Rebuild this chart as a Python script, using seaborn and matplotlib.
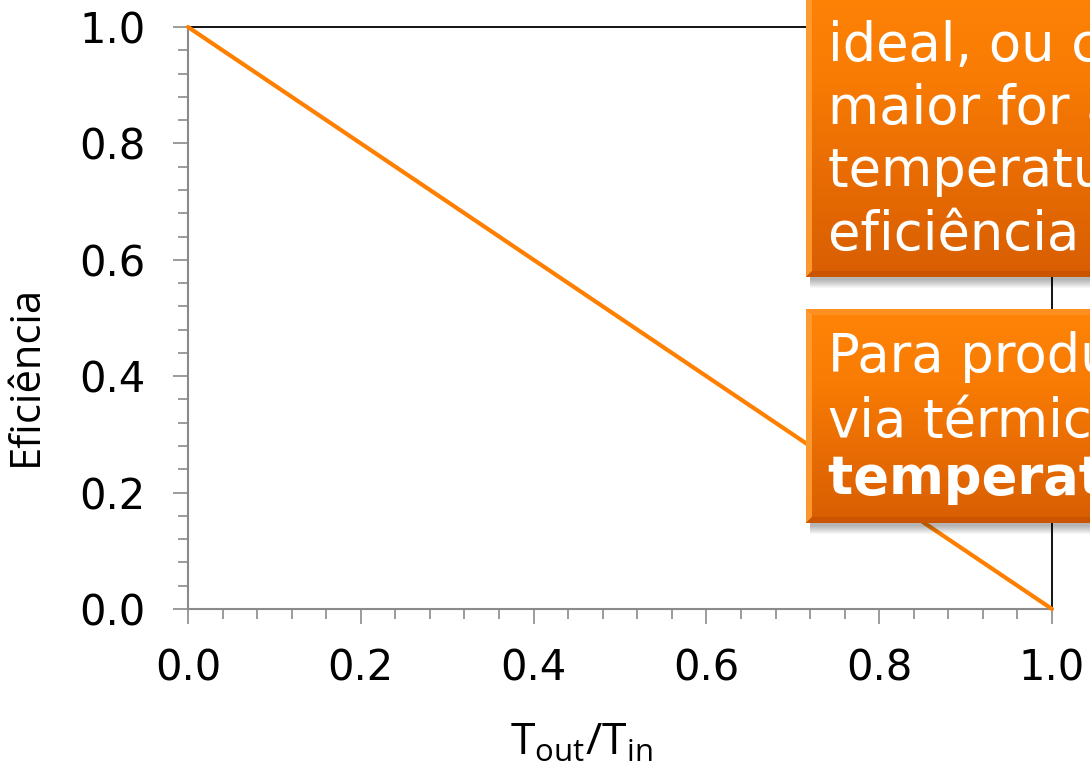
import numpy as np
import pandas as pd
import matplotlib
matplotlib.use("Agg")
import matplotlib.pyplot as plt
import seaborn as sns
from matplotlib.ticker import MultipleLocator, FixedLocator
from matplotlib.patches import Rectangle, Polygon
from matplotlib.colors import LinearSegmentedColormap

# ---------------- data ----------------
ratio = [0.0, 1.0]            # T_out / T_in
efficiency = [1.0, 0.0]       # Eficiência
xticks = [0.0, 0.2, 0.4, 0.6, 0.8, 1.0]
yticks = [0.0, 0.2, 0.4, 0.6, 0.8, 1.0]
xlabels = ["0.0", "0.2", "0.4", "0.6", "0.8", "1.0"]
ylabels = ["0.0", "0.2", "0.4", "0.6", "0.8", "1.0"]
box1_lines = ["ideal, ou ciclo de Carnot:", "maior for a diferença de",
              "temperatura, maior a", "eficiência teórica"]
box2_lines = ["Para produzir energia", "via térmica, são necessárias"]
box2_bold = "temperaturas elevadas"

# ---------------- style ----------------
sns.set_theme(style="white")
plt.rcParams['font.family'] = ['DejaVu Sans']
plt.rcParams['mathtext.fontset'] = 'custom'
plt.rcParams['mathtext.rm'] = 'Open Sans'
plt.rcParams['mathtext.it'] = 'Open Sans:italic'
plt.rcParams['mathtext.bf'] = 'Open Sans:bold'

W, H = 1090, 766
fig = plt.figure(figsize=(W / 100, H / 100), dpi=100)
fig.patch.set_facecolor("white")

ax = fig.add_axes([188 / W, 1 - 609 / H, (1052 - 188) / W, (609 - 27) / H])
df = pd.DataFrame({"ratio": ratio, "eff": efficiency})
sns.lineplot(data=df, x="ratio", y="eff", ax=ax, color="#FF8000",
             linewidth=3.0, clip_on=False, zorder=5)
ax.set_xlim(0, 1)
ax.set_ylim(0, 1)
ax.set_facecolor("white")

ax.xaxis.set_major_locator(FixedLocator(xticks))
ax.yaxis.set_major_locator(FixedLocator(yticks))
ax.set_xticklabels(xlabels)
ax.set_yticklabels(ylabels)
ax.xaxis.set_minor_locator(MultipleLocator(0.04))
ax.yaxis.set_minor_locator(MultipleLocator(0.04))

grey = "#8a8a8a"
for s in ["left", "bottom"]:
    ax.spines[s].set_color(grey)
    ax.spines[s].set_linewidth(1.5)
for s in ["top", "right"]:
    ax.spines[s].set_color("black")
    ax.spines[s].set_linewidth(1.3)
    ax.spines[s].set_visible(True)

ax.tick_params(axis="both", which="major", direction="out", length=10.5,
               width=1.2, color=grey, labelsize=30, labelcolor="black")
ax.tick_params(axis="both", which="minor", direction="out", length=7.5,
               width=1.2, color=grey)
ax.tick_params(axis="x", which="major", pad=17, bottom=True)
ax.tick_params(axis="y", which="major", pad=20, left=True)
ax.tick_params(axis="x", which="minor", bottom=True)
ax.tick_params(axis="y", which="minor", left=True)

ax.set_xlabel("")
ax.set_ylabel("")
fig.text(26 / W, 1 - 375 / H, "Eficiência", rotation=90, fontsize=30,
         family="Open Sans", ha="center", va="center", color="black")
fig.text(581 / W, 1 - 755 / H, r"$\mathrm{T_{out}/T_{in}}$", fontsize=32,
         ha="center", va="baseline", color="black")

# ---------------- call-out boxes (overlay in pixel coords) ----------------
ov = fig.add_axes([0, 0, 1, 1], zorder=10)
ov.set_xlim(0, W)
ov.set_ylim(H, 0)
ov.axis("off")
ov.patch.set_alpha(0)

cmap = LinearSegmentedColormap.from_list("org", ["#FF8406", "#F97C04", "#E86C03", "#D85E02"])


def callout(x0, y0, y1, lines, bold_line=None, baselines=None):
    x1 = W + 30
    # shadow
    for i in range(1, 10):
        ov.add_patch(Rectangle((x0 + 4, y0 + 2), x1 - x0, (y1 - y0) + i,
                               facecolor="black", edgecolor="none",
                               alpha=0.035, zorder=1))
    # gradient body
    grad = np.linspace(0, 1, 256).reshape(-1, 1)
    ov.imshow(grad, cmap=cmap, aspect="auto", extent=(x0, x1, y1, y0),
              origin="upper", zorder=2, interpolation="bilinear")
    b = 6
    # left bevel (lighter)
    ov.add_patch(Polygon([(x0, y0), (x0 + b, y0 + b), (x0 + b, y1 - b), (x0, y1)],
                         closed=True, facecolor="#FF9E35", edgecolor="none",
                         alpha=0.9, zorder=3))
    # top bevel
    ov.add_patch(Polygon([(x0, y0), (x1, y0), (x1, y0 + b), (x0 + b, y0 + b)],
                         closed=True, facecolor="#FF9228", edgecolor="none",
                         alpha=0.8, zorder=3))
    # bottom bevel (darker)
    ov.add_patch(Polygon([(x0, y1), (x0 + b, y1 - b), (x1, y1 - b), (x1, y1)],
                         closed=True, facecolor="#C85300", edgecolor="none",
                         alpha=0.85, zorder=3))
    for ln, yb in zip(lines, baselines):
        ov.text(828, yb, ln, color="white", fontsize=38, va="baseline",
                ha="left", zorder=4, family="DejaVu Sans")
    if bold_line is not None:
        ov.text(828, baselines[len(lines)], bold_line, color="white",
                fontsize=38, fontweight="bold", va="baseline", ha="left",
                zorder=4, family="DejaVu Sans")


callout(806, -30, 277, box1_lines, baselines=[61, 124, 186, 250])
callout(806, 309, 523, box2_lines, bold_line=box2_bold, baselines=[372, 437, 494])

fig.savefig("out.png", dpi=100)
